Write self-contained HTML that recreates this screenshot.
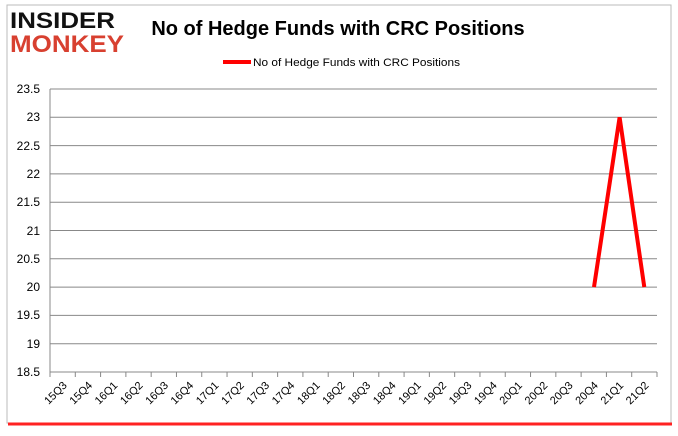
<!DOCTYPE html>
<html><head><style>
body{margin:0;width:678px;height:431px;background:#fff;overflow:hidden}
</style></head><body>
<svg width="678" height="431" xmlns="http://www.w3.org/2000/svg" font-family="Liberation Sans, sans-serif">
<rect x="0" y="0" width="678" height="431" fill="#fff"/>
<rect x="7" y="5" width="664" height="418" fill="#fff" stroke="#bbb" stroke-width="1"/>
<line x1="8" y1="424" x2="672" y2="424" stroke="#f22" stroke-width="3"/>
<text x="10" y="28" font-size="22" font-weight="bold" fill="#111" textLength="105" lengthAdjust="spacingAndGlyphs">INSIDER</text>
<text x="10" y="52" font-size="24" font-weight="bold" fill="#d84030" textLength="114" lengthAdjust="spacingAndGlyphs">MONKEY</text>
<text x="338" y="35" font-size="20" font-weight="bold" text-anchor="middle" fill="#000">No of Hedge Funds with CRC Positions</text>
<line x1="223" y1="62" x2="251" y2="62" stroke="#f00" stroke-width="4"/>
<text x="253" y="66" font-size="11" fill="#000" textLength="207" lengthAdjust="spacingAndGlyphs">No of Hedge Funds with CRC Positions</text>
<g stroke="#888" stroke-width="1">
<line x1="50" y1="89" x2="657" y2="89"/><line x1="50" y1="117.3" x2="657" y2="117.3"/>
<line x1="50" y1="145.6" x2="657" y2="145.6"/><line x1="50" y1="173.9" x2="657" y2="173.9"/>
<line x1="50" y1="202.2" x2="657" y2="202.2"/><line x1="50" y1="230.5" x2="657" y2="230.5"/>
<line x1="50" y1="258.8" x2="657" y2="258.8"/><line x1="50" y1="287.1" x2="657" y2="287.1"/>
<line x1="50" y1="315.4" x2="657" y2="315.4"/><line x1="50" y1="343.7" x2="657" y2="343.7"/>
<line x1="50" y1="372" x2="657" y2="372"/>
<line x1="50" y1="89" x2="50" y2="376"/>
</g>
<g font-size="12" text-anchor="end" fill="#000">
<text x="40" y="93">23.5</text><text x="40" y="121">23</text><text x="40" y="150">22.5</text>
<text x="40" y="178">22</text><text x="40" y="206">21.5</text><text x="40" y="235">21</text>
<text x="40" y="263">20.5</text><text x="40" y="291">20</text><text x="40" y="319">19.5</text>
<text x="40" y="348">19</text><text x="40" y="376">18.5</text>
</g>
<g id="ticks" stroke="#888"></g>
<g id="lbl" font-size="11" text-anchor="end" fill="#000"></g>
<polyline points="594,287.1 619.6,117.3 644.3,287.1" fill="none" stroke="#f00" stroke-width="4"/>
<script>
var L=["15Q3","15Q4","16Q1","16Q2","16Q3","16Q4","17Q1","17Q2","17Q3","17Q4","18Q1","18Q2","18Q3","18Q4","19Q1","19Q2","19Q3","19Q4","20Q1","20Q2","20Q3","20Q4","21Q1","21Q2"];
var ns="http://www.w3.org/2000/svg",t=document.getElementById("ticks"),g=document.getElementById("lbl");
for(var i=0;i<=24;i++){var x=50+i*607/24;var l=document.createElementNS(ns,"line");l.setAttribute("x1",x);l.setAttribute("x2",x);l.setAttribute("y1",372);l.setAttribute("y2",377);t.appendChild(l);}
for(var i=0;i<24;i++){var x=50+(i+0.5)*607/24+5;var e=document.createElementNS(ns,"text");e.setAttribute("x",x);e.setAttribute("y",386);e.setAttribute("transform","rotate(-45 "+x+" 386)");e.textContent=L[i];g.appendChild(e);}
</script>
</svg>
</body></html>
